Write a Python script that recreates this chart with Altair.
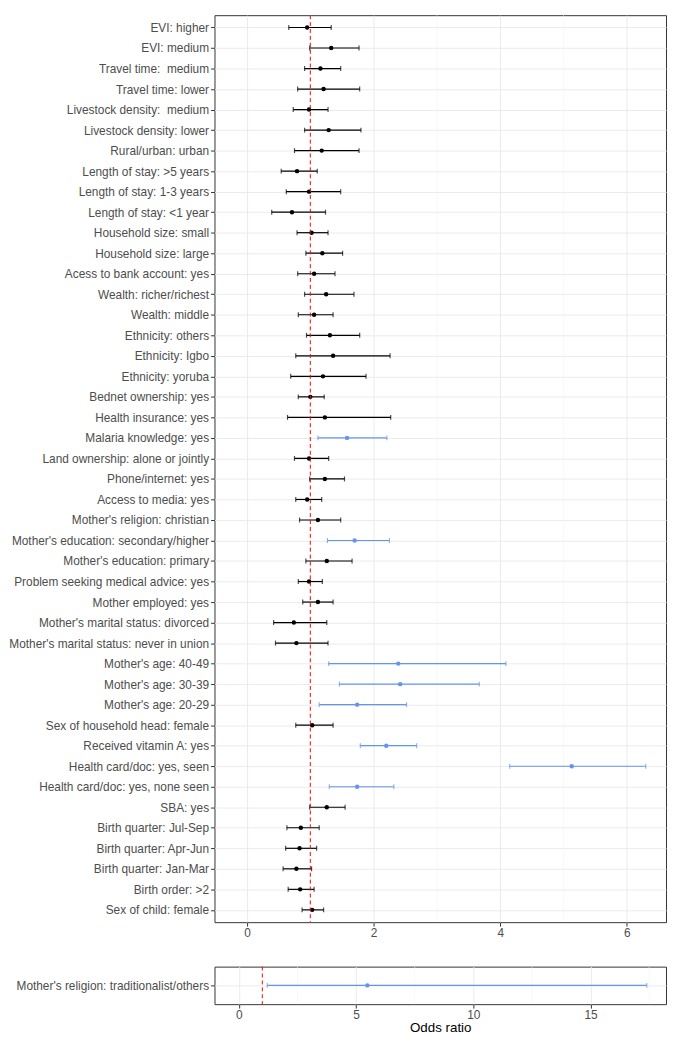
import altair as alt
import pandas as pd

# ---------------- data ----------------
labels = [
    "EVI: higher", "EVI: medium", "Travel time:\u00a0 medium", "Travel time: lower",
    "Livestock density:\u00a0 medium", "Livestock density: lower", "Rural/urban: urban",
    "Length of stay: >5 years", "Length of stay: 1-3 years", "Length of stay: <1 year",
    "Household size: small", "Household size: large", "Acess to bank account: yes",
    "Wealth: richer/richest", "Wealth: middle", "Ethnicity: others", "Ethnicity: Igbo",
    "Ethnicity: yoruba", "Bednet ownership: yes", "Health insurance: yes",
    "Malaria knowledge: yes", "Land ownership: alone or jointly", "Phone/internet: yes",
    "Access to media: yes", "Mother's religion: christian",
    "Mother's education: secondary/higher", "Mother's education: primary",
    "Problem seeking medical advice: yes", "Mother employed: yes",
    "Mother's marital status: divorced", "Mother's marital status: never in union",
    "Mother's age: 40-49", "Mother's age: 30-39", "Mother's age: 20-29",
    "Sex of household head: female", "Received vitamin A: yes",
    "Health card/doc: yes, seen", "Health card/doc: yes, none seen", "SBA: yes",
    "Birth quarter: Jul-Sep", "Birth quarter: Apr-Jun", "Birth quarter: Jan-Mar",
    "Birth order: >2", "Sex of child: female",
]
odds = [0.95, 1.33, 1.16, 1.21, 0.98, 1.29, 1.18, 0.79, 0.98, 0.71,
        1.02, 1.19, 1.06, 1.25, 1.06, 1.31, 1.36, 1.20, 1.00, 1.23,
        1.58, 0.98, 1.23, 0.95, 1.12, 1.70, 1.26, 0.98, 1.12, 0.74,
        0.78, 2.39, 2.42, 1.74, 1.03, 2.20, 5.13, 1.74, 1.26, 0.85,
        0.83, 0.78, 0.84, 1.03]
ci_low = [0.66, 0.99, 0.91, 0.80, 0.73, 0.91, 0.75, 0.54, 0.62, 0.39,
          0.79, 0.93, 0.80, 0.91, 0.81, 0.94, 0.77, 0.69, 0.81, 0.64,
          1.12, 0.75, 0.99, 0.77, 0.83, 1.27, 0.93, 0.81, 0.88, 0.42,
          0.45, 1.29, 1.46, 1.14, 0.77, 1.79, 4.15, 1.30, 0.99, 0.63,
          0.61, 0.57, 0.65, 0.87]
ci_high = [1.33, 1.77, 1.48, 1.78, 1.28, 1.80, 1.77, 1.11, 1.48, 1.24,
           1.28, 1.51, 1.39, 1.69, 1.36, 1.78, 2.26, 1.88, 1.22, 2.27,
           2.21, 1.29, 1.54, 1.18, 1.48, 2.25, 1.66, 1.19, 1.36, 1.26,
           1.28, 4.09, 3.67, 2.52, 1.36, 2.68, 6.30, 2.32, 1.55, 1.14,
           1.10, 1.02, 1.06, 1.21]
significant = [False] * 20 + [True] + [False] * 4 + [True] + [False] * 5 + \
              [True, True, True, False, True, True, True] + [False] * 6

extra_label = ["Mother's religion: traditionalist/others"]
extra_odds = [5.48]
extra_low = [1.21]
extra_high = [17.4]
extra_sig = [True]

top_ticks = [0, 2, 4, 6]
top_minor = [1, 3, 5]
bottom_ticks = [0, 5, 10, 15]
bottom_minor = [2.5, 7.5, 12.5, 17.5]
reference_line = [1]

# ---------------- styling ----------------
BLACK = "#000000"
BLUE = "#6495ED"
GRID = "#EBEBEB"
FONT = "Liberation Sans"


def make_panel(lab, est, lo, hi, sig, ticks, minor, domain, height, title=None):
    df = pd.DataFrame({
        "label": lab, "or": est, "lo": lo, "hi": hi,
        "group": ["sig" if s else "ns" for s in sig],
    })
    xaxis = alt.Axis(values=ticks, title=title, grid=True, gridColor=GRID, gridWidth=1,
                     domain=False, tickColor="#333333", tickSize=4, labelPadding=2,
                     labelFontSize=12, labelColor="#4D4D4D", labelFont=FONT,
                     titleFontSize=13.5, titleColor="#000000", titleFontWeight="normal",
                     titleFont=FONT, titlePadding=0)
    xscale = alt.Scale(domain=domain, nice=False, zero=False)
    yenc = alt.Y("label:N", sort=lab,
                 scale=alt.Scale(type="point", padding=0.6),
                 axis=alt.Axis(title=None, grid=True, gridColor=GRID, gridWidth=1,
                               domain=False, tickColor="#333333", tickSize=4,
                               labelPadding=2, labelFontSize=12, labelColor="#4D4D4D",
                               labelFont=FONT, labelLimit=400, labelOverlap=False))
    color = alt.Color("group:N", scale=alt.Scale(domain=["ns", "sig"], range=[BLACK, BLUE]),
                      legend=None)
    base = alt.Chart(df)

    minor_layer = alt.Chart(pd.DataFrame({"or": minor})).mark_rule(
        color="#F2F2F2", strokeWidth=0.6).encode(
        x=alt.X("or:Q", scale=xscale, axis=xaxis))
    bars = base.mark_rule(strokeWidth=1.2).encode(
        x=alt.X("lo:Q", scale=xscale, axis=xaxis), x2="hi:Q", y=yenc, color=color)
    cap_lo = base.mark_tick(thickness=1.2, size=5).encode(
        x=alt.X("lo:Q", scale=xscale, axis=xaxis), y=yenc, color=color)
    cap_hi = base.mark_tick(thickness=1.2, size=5).encode(
        x=alt.X("hi:Q", scale=xscale, axis=xaxis), y=yenc, color=color)
    pts = base.mark_circle(size=20, opacity=1).encode(
        x=alt.X("or:Q", scale=xscale, axis=xaxis), y=yenc, color=color)
    vline = alt.Chart(pd.DataFrame({"or": reference_line})).mark_rule(
        color="#FF0000", strokeWidth=1, strokeDash=[4, 3]).encode(
        x=alt.X("or:Q", scale=xscale, axis=xaxis))
    return alt.layer(minor_layer, bars, cap_lo, cap_hi, pts, vline).properties(
        width=457, height=height)


top = make_panel(labels, odds, ci_low, ci_high, significant,
                 top_ticks, top_minor, [-0.514, 6.62], 918)
bottom = make_panel(extra_label, extra_odds, extra_low, extra_high, extra_sig,
                    bottom_ticks, bottom_minor, [-1.04, 18.22], 38, title="Odds ratio")

chart = alt.vconcat(top, bottom, spacing=26).properties(
    padding=0
).configure(font=FONT, padding=0).configure_view(
    stroke="#333333", strokeWidth=1
)

chart.save("out.html", embed_options={"renderer": "svg", "actions": False})
